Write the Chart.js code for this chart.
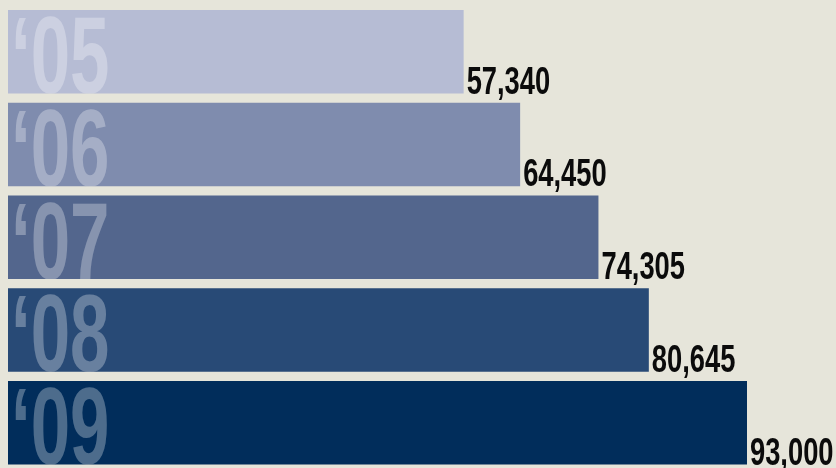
<!DOCTYPE html>
<html>
<head>
<meta charset="utf-8">
<script src="https://cdn.jsdelivr.net/npm/chart.js@4"></script>
<style>
  html, body { margin: 0; padding: 0; background: #e6e5da; overflow: hidden; }
  #wrap { width: 836px; height: 468px; overflow: hidden; }
</style>
</head>
<body>
<div id="wrap"><canvas id="chart" width="836" height="470"></canvas></div>
<script>
const years = ["‘05", "‘06", "‘07", "‘08", "‘09"]
const totals = [57340, 64450, 74305, 80645, 93000]
const barColors = ["#b6bcd4", "#7f8cae", "#53668d", "#284a76", "#012d5b"]

// year tag inside each bar, value just past the bar end, both squeezed horizontally
const barLabels = {
  id: "barLabels",
  afterDatasetsDraw(chart) {
    const ctx = chart.ctx
    const meta = chart.getDatasetMeta(0)
    meta.data.forEach((bar, i) => {
      const top = bar.y - bar.height / 2
      const bottom = bar.y + bar.height / 2

      ctx.save()
      ctx.beginPath()
      ctx.rect(bar.base, top, bar.x - bar.base, bar.height)
      ctx.clip()
      ctx.translate(bar.base + 3, bottom - 0.5)
      ctx.scale(0.65, 1)
      ctx.font = "bold 109px 'Liberation Sans', Arial, sans-serif"
      ctx.textBaseline = "alphabetic"
      ctx.textAlign = "left"
      ctx.fillStyle = "rgba(255,255,255,0.3)"
      ctx.fillText(years[i], 0, 0)
      ctx.restore()

      ctx.save()
      ctx.translate(bar.x + 3, bottom)
      ctx.scale(0.7, 1)
      ctx.font = "bold 39px 'Liberation Sans', Arial, sans-serif"
      ctx.textBaseline = "alphabetic"
      ctx.textAlign = "left"
      ctx.fillStyle = "#0b0b0b"
      ctx.fillText(totals[i].toLocaleString("en-US"), 0, 0)
      ctx.restore()
    })
  }
}

new Chart(document.getElementById("chart"), {
  type: "bar",
  data: {
    labels: years,
    datasets: [{
      data: totals,
      backgroundColor: barColors,
      borderWidth: 0,
      categoryPercentage: 1,
      barPercentage: 0.9
    }]
  },
  options: {
    indexAxis: "y",
    responsive: false,
    animation: false,
    layout: { padding: { left: 8, right: 0, top: 5.4, bottom: 0.85 } },
    scales: {
      x: { display: false, min: 0, max: 104200 },
      y: { display: false }
    },
    plugins: { legend: { display: false }, tooltip: { enabled: false } }
  },
  plugins: [barLabels]
})
</script>
</body>
</html>
